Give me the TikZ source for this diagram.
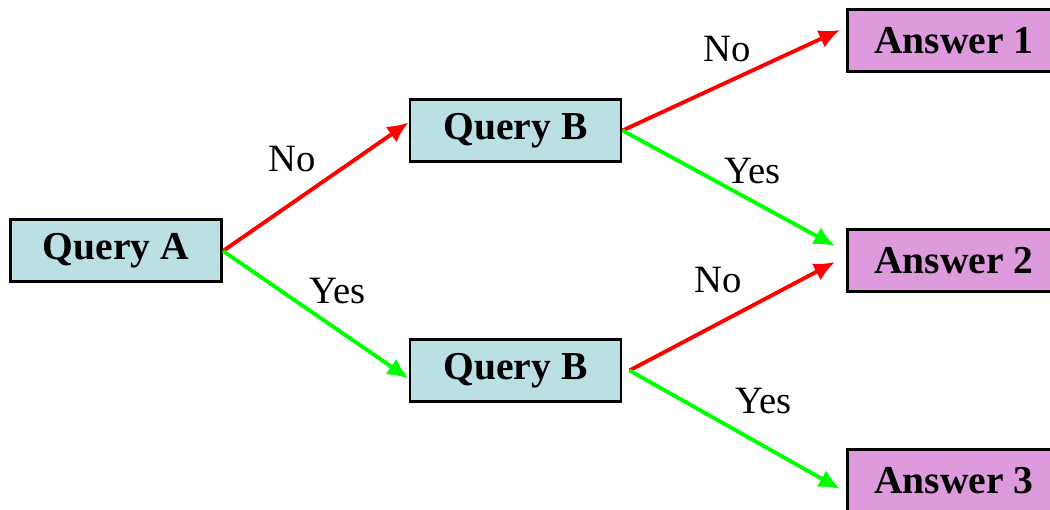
\documentclass[tikz,border=0pt]{standalone}
\usepackage{fontspec}
\setmainfont{Liberation Serif}
\usetikzlibrary{arrows.meta, positioning}
\definecolor{queryfill}{RGB}{187,224,227}
\definecolor{answerfill}{RGB}{221,155,222}
\tikzstyle{query} = [rectangle, text centered, minimum width=4.22cm,
	minimum height=1.24cm, draw=black, line width=1.7pt, fill=queryfill,
	font=\fontsize{22.5}{26}\selectfont\bfseries]
\tikzstyle{answer} = [rectangle, text centered, minimum width=4.26cm,
	minimum height=1.24cm, draw=black, line width=1.7pt, fill=answerfill,
	font=\fontsize{22.5}{26}\selectfont\bfseries]
\tikzstyle{arrow-no} = [-{Latex[length=4.2mm, width=3.8mm]}, line width=2.2pt, red]
\tikzstyle{arrow-yes} = [-{Latex[length=4.2mm, width=3.8mm]}, line width=2.2pt, green]
\tikzstyle{answerlabel} = [font=\fontsize{22}{26}\selectfont, text=black, midway, anchor=center]
\begin{document}
\begin{tikzpicture}
	\useasboundingbox (0,0) rectangle (21,10.2);
	\clip (0,0) rectangle (21,10.2);

	% set up nodes
	\node (qA) [query] at (2.32,5.18) {Query A};
	\node (qB1) [query] at (10.31,7.59) {Query B};
	\node (qB2) [query] at (10.31,2.79) {Query B};
	\node (ans1) [answer] at (19.08,9.38) {Answer 1};
	\node (ans2) [answer] at (19.08,4.98) {Answer 2};
	\node (ans3) [answer] at (19.08,0.58) {Answer 3};

	% set up branches
	\draw [arrow-no] (qA.east) -- ([yshift=0.16cm]qB1.west) node[answerlabel, xshift=-0.48cm, yshift=0.56cm] {No};
	\draw [arrow-yes] (qA.east) -- ([yshift=-0.16cm]qB2.west) node[answerlabel, xshift=0.44cm, yshift=0.48cm] {Yes};
	\draw [arrow-no] (qB1.east) -- ([yshift=0.22cm, xshift=-0.12cm]ans1.west) node[answerlabel, xshift=-0.08cm, yshift=0.62cm] {No};
	\draw [arrow-yes] (qB1.east) -- ([yshift=0.3cm, xshift=-0.22cm]ans2.west) node[answerlabel, xshift=0.48cm, yshift=0.34cm] {Yes};
	\draw [arrow-no] ([xshift=0.14cm]qB2.east) -- ([yshift=-0.02cm, xshift=-0.22cm]ans2.west) node[answerlabel, xshift=-0.28cm, yshift=0.72cm] {No};
	\draw [arrow-yes] ([xshift=0.14cm]qB2.east) -- ([yshift=-0.16cm, xshift=-0.12cm]ans3.west) node[answerlabel, xshift=0.58cm, yshift=0.58cm] {Yes};

\end{tikzpicture}
\end{document}
